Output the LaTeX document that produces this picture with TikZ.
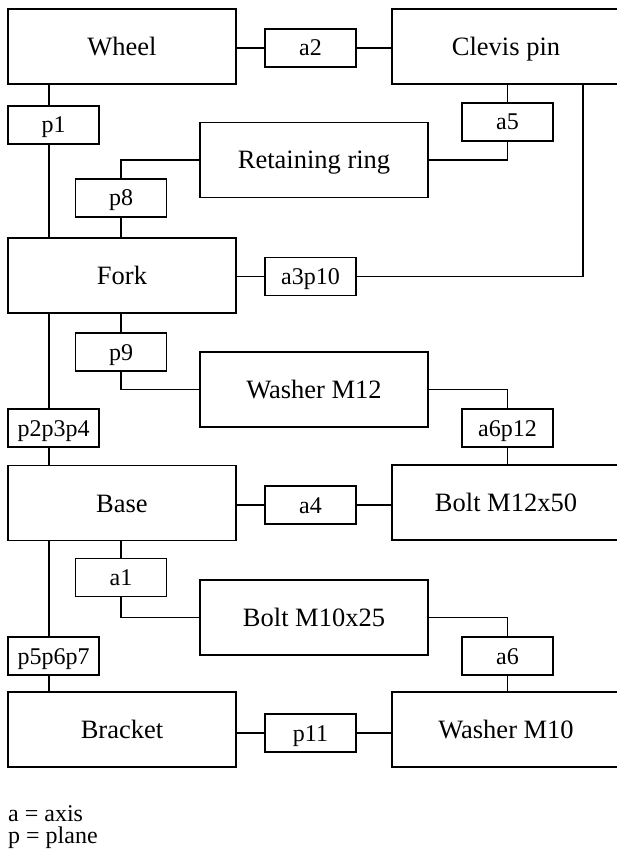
\documentclass[tikz,border=0pt]{standalone}
\usepackage{fontspec}
\setmainfont{Liberation Serif}
\usepackage{tikz}
\usetikzlibrary{shapes,positioning}

\begin{document}
\begin{tikzpicture}[
    x=1pt, y=-1pt,
    every node/.style={font=\fontsize{24}{26}\selectfont},
    part/.style={rectangle, draw, line width=1.8pt, minimum width=228pt, minimum height=75pt, inner sep=0pt, text height=18pt, text depth=0pt, font=\fontsize{26.5}{30}\selectfont},
    link/.style={rectangle, draw, line width=1.8pt, minimum width=91pt, minimum height=38pt, inner sep=0pt, text height=16pt, text depth=0pt},
    wire/.style={line width=1.8pt}
]
    \useasboundingbox (0,0) rectangle (617,850);

    % Guide lines
    \coordinate (spine) at (49,0);
    \coordinate (hook) at (583,0);

    % Parts
    \node[part] (wheel) at (122,46.5) {Wheel};
    \node[part] (clevis) at (506,46.5) {Clevis pin};
    \node[part] (ring) at (314,160) {Retaining ring};
    \node[part] (fork) at (122,275.5) {Fork};
    \node[part] (washer12) at (314,389.5) {Washer M12};
    \node[part] (base) at (122,503) {Base};
    \node[part] (bolt12) at (506,502.5) {Bolt M12x50};
    \node[part] (bolt10) at (314,617.5) {Bolt M10x25};
    \node[part] (bracket) at (122,729.5) {Bracket};
    \node[part] (washer10) at (506,729.5) {Washer M10};

    % Contacts
    \node[link] (a2) at (310.5,48) {a2};
    \node[link] (p1) at (53.5,125) {p1};
    \node[link] (a5) at (507.5,122) {a5};
    \node[link] (p8) at (121,198) {p8};
    \node[link] (a3p10) at (310.5,276.5) {a3p10};
    \node[link] (p9) at (121,352) {p9};
    \node[link] (p2p3p4) at (53.5,428) {p2p3p4};
    \node[link] (a6p12) at (507.5,428) {a6p12};
    \node[link] (a4) at (310.5,505) {a4};
    \node[link] (a1) at (121,577.5) {a1};
    \node[link] (p5p6p7) at (53.5,656) {p5p6p7};
    \node[link] (a6) at (507.5,656) {a6};
    \node[link] (p11) at (310.5,733) {p11};

    % Legend
    \node[anchor=north west, inner sep=0pt, align=left, font=\fontsize{24}{22.5}\selectfont] (legend) at (8,805) {a = axis\\p = plane};

    % Edges
    \draw[wire] (wheel.east |- a2) -- (a2.west);
    \draw[wire] (a2.east) -- (clevis.west |- a2);
    \draw[wire] (wheel.south -| spine) -- (p1.north -| spine);
    \draw[wire] (p1.south -| spine) -- (fork.north -| spine);
    \draw[wire] (clevis.south -| a5) -- (a5.north);
    \draw[wire] (a5.south) |- (ring.east);
    \draw[wire] (ring.west) -| (p8.north);
    \draw[wire] (p8.south) -- (fork.north -| p8);

    \draw[wire] (fork.east |- a3p10) -- (a3p10.west);
    \draw[wire] (a3p10.east) -| (clevis.south -| hook);
    \draw[wire] (fork.south -| p9) -- (p9.north);
    \draw[wire] (p9.south) |- (washer12.west);
    \draw[wire] (washer12.east) -| (a6p12.north);
    \draw[wire] (a6p12.south) -- (bolt12.north -| a6p12);
    \draw[wire] (fork.south -| spine) -- (p2p3p4.north -| spine);
    \draw[wire] (p2p3p4.south -| spine) -- (base.north -| spine);

    \draw[wire] (base.east |- a4) -- (a4.west);
    \draw[wire] (a4.east) -- (bolt12.west |- a4);
    \draw[wire] (base.south -| a1) -- (a1.north);
    \draw[wire] (a1.south) |- (bolt10.west);
    \draw[wire] (bolt10.east) -| (a6.north);
    \draw[wire] (a6.south) -- (washer10.north -| a6);
    \draw[wire] (base.south -| spine) -- (p5p6p7.north -| spine);
    \draw[wire] (p5p6p7.south -| spine) -- (bracket.north -| spine);

    \draw[wire] (bracket.east |- p11) -- (p11.west);
    \draw[wire] (p11.east) -- (washer10.west |- p11);
\end{tikzpicture}
\end{document}
